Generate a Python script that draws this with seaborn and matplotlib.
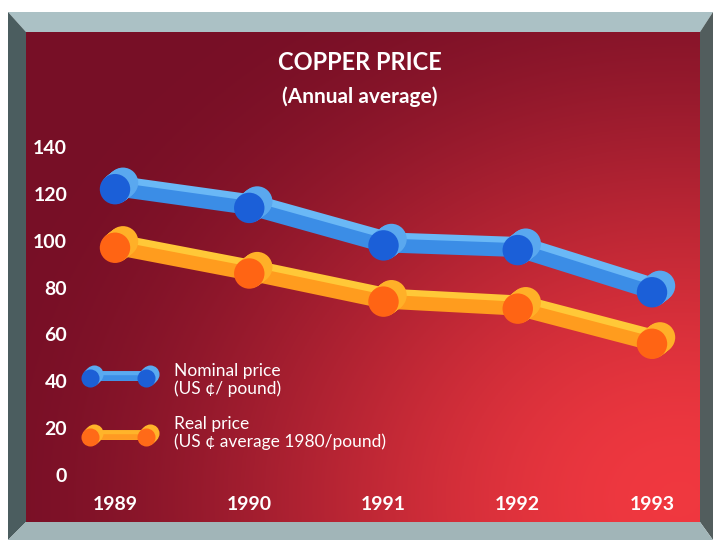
import numpy as np
import pandas as pd
import matplotlib
matplotlib.use("Agg")
import matplotlib.pyplot as plt
from matplotlib.patches import Polygon
from matplotlib.transforms import offset_copy
import seaborn as sns

# ---- data ----
years = [1989, 1990, 1991, 1992, 1993]
nominal = [122, 114, 98, 96, 78]
real = [97, 86, 74, 71, 56]
y_ticks = [0, 20, 40, 60, 80, 100, 120, 140]
title = "COPPER PRICE"
subtitle = "(Annual average)"
legend_nominal = "Nominal price\n(US ¢/ pound)"
legend_real = "Real price\n(US ¢ average 1980/pound)"

df = pd.DataFrame({"year": years, "nominal": nominal, "real": real})

sns.set_theme(style="white")
plt.rcParams["font.family"] = ["Lato", "DejaVu Sans"]

W, H = 713, 540
fig = plt.figure(figsize=(W / 100, H / 100), dpi=100)
fig.patch.set_facecolor("white")

# ---- background axes in pixel coordinates ----
bg = fig.add_axes([0, 0, 1, 1])
bg.set_xlim(0, W)
bg.set_ylim(H, 0)
bg.axis("off")

# gradient panel
px0, px1, py0, py1 = 26, 700, 32, 522
gx = np.linspace(px0, px1, 300)
gy = np.linspace(py0, py1, 220)
GX, GY = np.meshgrid(gx, gy)
d = np.sqrt(((GX - 680) / 1.0) ** 2 + ((GY - 500) / 0.85) ** 2)
t = np.clip(d / 720, 0, 1)
t = t * t * (3 - 2 * t)
c_near = np.array([0.94, 0.22, 0.25])
c_far = np.array([0.47, 0.06, 0.15])
img = c_near[None, None, :] * (1 - t[..., None]) + c_far[None, None, :] * t[..., None]
bg.imshow(img, extent=[px0, px1, py1, py0], aspect="auto", zorder=0)

# bevelled frame
ox0, ox1, oy0, oy1 = 8, 713, 12, 540
bg.add_patch(Polygon([(ox0, oy0), (ox1, oy0), (px1, py0), (px0, py0)], closed=True,
                     facecolor="#abc1c5", edgecolor="none", zorder=1))
bg.add_patch(Polygon([(ox1, oy0), (ox1, oy1), (px1, py1), (px1, py0)], closed=True,
                     facecolor="#525d5d", edgecolor="none", zorder=1))
bg.add_patch(Polygon([(ox0, oy0), (px0, py0), (px0, py1), (ox0, oy1)], closed=True,
                     facecolor="#4b5d5f", edgecolor="none", zorder=1))
bg.add_patch(Polygon([(ox0, oy1), (ox1, oy1), (px1, py1), (px0, py1)], closed=True,
                     facecolor="#a1b5b8", edgecolor="none", zorder=1))

# titles
bg.text(360, 62, title, color="white", fontsize=17, fontweight="bold",
        ha="center", va="center", zorder=3)
bg.text(360, 97, subtitle, color="white", fontsize=15, fontweight="bold",
        ha="center", va="center", zorder=3)

# legend glyphs and text
def dumbbell(x0, x1, y, face, rim, tube):
    for k in (4, 3, 2, 1):
        bg.plot([x0 + k, x1 + k], [y - k, y - k], color=rim, lw=5,
                solid_capstyle="butt", zorder=3)
    bg.plot([x0, x1], [y, y], color=tube, lw=4, solid_capstyle="butt", zorder=3)
    for k in (4, 3, 2, 1):
        bg.plot([x0 + k, x1 + k], [y - k, y - k], ls="none", marker="o", ms=13,
                mfc=rim, mec="none", zorder=4)
    bg.plot([x0, x1], [y, y], ls="none", marker="o", ms=13, mfc=face,
            mec="none", zorder=4)

dumbbell(90, 146, 378, "#1c5fd6", "#5aaaf0", "#3d8fe6")
dumbbell(90, 146, 437, "#ff6a18", "#ffb42a", "#ff9a22")
bg.text(174, 380, legend_nominal, color="white", fontsize=12.5, ha="left",
        va="center", linespacing=1.05, zorder=3)
bg.text(174, 433, legend_real, color="white", fontsize=12.5, ha="left",
        va="center", linespacing=1.05, zorder=3)

# ---- main data axes ----
ax_l, ax_r, ax_t, ax_b = 70, 690, 130, 490
ax = fig.add_axes([ax_l / W, (H - ax_b) / H, (ax_r - ax_l) / W, (ax_b - ax_t) / H])
ax.patch.set_alpha(0)
ppy = (652 - 115) / 4.0
ppv = (475 - 147) / 140.0
ax.set_xlim(1989 - (115 - ax_l) / ppy, 1993 + (ax_r - 652) / ppy)
ax.set_ylim(0 - (ax_b - 475) / ppv, 140 + (147 - ax_t) / ppv)


def tube_series(col, face, rim, tube, hi):
    # highlight of the tube (offset up-right)
    for k in (6, 5, 4, 3):
        tr = offset_copy(ax.transData, fig=fig, x=k, y=k, units="dots")
        sns.lineplot(data=df, x="year", y=col, ax=ax, color=hi, lw=10,
                     transform=tr, legend=False, zorder=2,
                     solid_capstyle="round")
    sns.lineplot(data=df, x="year", y=col, ax=ax, color=tube, lw=10,
                 legend=False, zorder=3, solid_capstyle="round")
    # cylinder body of each disc
    for k in (8, 7, 6, 5, 4, 3, 2, 1):
        tr = offset_copy(ax.transData, fig=fig, x=k, y=k * 0.8, units="dots")
        sns.scatterplot(data=df, x="year", y=col, ax=ax, color=rim, s=480,
                        edgecolor="none", transform=tr, legend=False, zorder=4)
    sns.scatterplot(data=df, x="year", y=col, ax=ax, color=face, s=480,
                    edgecolor="none", legend=False, zorder=5)


tube_series("nominal", "#1b5fd8", "#5aa8ef", "#3b8de6", "#6ab8f6")
tube_series("real", "#ff6414", "#ffb028", "#ff9c1e", "#ffc838")

ax.set_xticks(years)
ax.set_xticklabels([str(y) for y in years])
ax.set_yticks(y_ticks)
ax.set_yticklabels([str(v) for v in y_ticks])
ax.tick_params(axis="both", length=0, colors="white", labelsize=14)
ax.tick_params(axis="y", pad=2)
ax.tick_params(axis="x", pad=4)
for lab in ax.get_xticklabels() + ax.get_yticklabels():
    lab.set_fontweight("bold")
ax.set_xlabel("")
ax.set_ylabel("")
ax.grid(False)
for s in ax.spines.values():
    s.set_visible(False)

fig.savefig("out.png", dpi=100)
